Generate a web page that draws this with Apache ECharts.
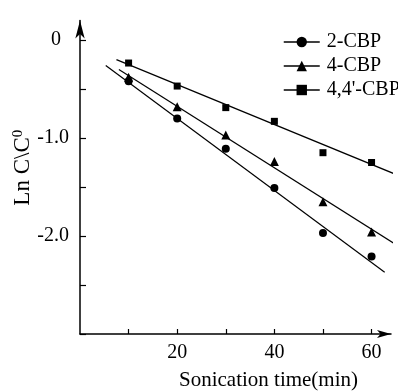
<!DOCTYPE html>
<html>
<head>
<meta charset="utf-8">
<script src="https://cdn.jsdelivr.net/npm/echarts@6/dist/echarts.min.js"></script>
<style>
  html, body { margin: 0; padding: 0; background: #fff; }
  #chart { width: 398px; height: 392px; }
</style>
</head>
<body>
<div id="chart"></div>
<script>
// sonication time (min) and ln(C/C0)
const time = [10, 20, 30, 40, 50, 60];
const cbp2 = [-0.42, -0.80, -1.11, -1.51, -1.97, -2.21];
const cbp4 = [-0.38, -0.68, -0.97, -1.24, -1.65, -1.96];
const cbp44 = [-0.235, -0.47, -0.69, -0.83, -1.15, -1.25];

// regression lines, start and end points
const fit2X = [5.3, 62.7];
const fit2Y = [-0.26, -2.37];
const fit4X = [8.0, 65.4];
const fit4Y = [-0.30, -2.10];
const fit44X = [7.5, 65.4];
const fit44Y = [-0.20, -1.38];

const xTicks = [10, 20, 30, 40, 50, 60];
const xLabels = [20, 40, 60];
const yTicks = [-3, -2.5, -2, -1.5, -1, -0.5, 0];
const yLabels = [-2, -1, 0];

const names = ['2-CBP', '4-CBP', "4,4'-CBP"];
const symbols = ['circle', 'triangle', 'rect'];
const sizes = [8, 9, 7];
const values = [cbp2, cbp4, cbp44];
const fits = [[fit2X, fit2Y], [fit4X, fit4Y], [fit44X, fit44Y]];

const font = 'Liberation Serif';
const zip = (xs, ys) => xs.map((x, i) => [x, ys[i]]);

const chart = echarts.init(document.getElementById('chart'));

const series = [];
names.forEach((name, i) => {
  series.push({
    name: name,
    type: 'line',
    data: zip(time, values[i]),
    symbol: symbols[i],
    symbolSize: sizes[i],
    itemStyle: { color: '#000' },
    lineStyle: { width: 0 },
    z: 3
  });
  series.push({
    name: name + ' fit',
    type: 'line',
    data: zip(fits[i][0], fits[i][1]),
    symbol: 'none',
    clip: false,
    lineStyle: { color: '#000', width: 1.2 },
    z: 2
  });
});

const option = {
  animation: false,
  backgroundColor: '#fff',
  grid: { left: 80, right: 7, top: 20.4, bottom: 58, outerBoundsMode: 'none' },
  legend: {
    data: names,
    orient: 'vertical',
    left: 283,
    top: 32,
    padding: 0,
    itemWidth: 36,
    itemHeight: 13,
    itemGap: 4,
    selectedMode: false,
    lineStyle: { width: 1.5, color: '#000' },
    textStyle: { fontFamily: font, fontSize: 20, color: '#000', padding: [0, 0, 0, 2] }
  },
  xAxis: {
    type: 'value',
    min: 0,
    max: 64,
    name: 'Sonication time(min)',
    nameLocation: 'middle',
    nameGap: 36,
    nameTextStyle: { fontFamily: font, fontSize: 21, color: '#000', padding: [0, 0, 0, 66] },
    splitLine: { show: false },
    axisLine: {
      onZero: false,
      symbol: ['none', 'arrow'],
      symbolSize: [6, 14],
      lineStyle: { color: '#000', width: 1.5 }
    },
    axisTick: { inside: true, length: 5, customValues: xTicks, lineStyle: { color: '#000', width: 1.2 } },
    axisLabel: { customValues: xLabels, margin: 9, fontFamily: font, fontSize: 20, color: '#000' }
  },
  yAxis: {
    type: 'value',
    min: -3,
    max: 0.2,
    name: 'Ln C\\C{s|0}',
    nameLocation: 'middle',
    nameGap: 46,
    nameMoveOverlap: false,
    nameTextStyle: {
      fontFamily: font, fontSize: 23, color: '#000', padding: [0, 0, 0, 19],
      rich: { s: { fontFamily: font, fontSize: 15, color: '#000', verticalAlign: 'top' } }
    },
    splitLine: { show: false },
    axisLine: {
      onZero: false,
      symbol: ['none', 'arrow'],
      symbolSize: [7, 18],
      lineStyle: { color: '#000', width: 1.5 }
    },
    axisTick: { inside: true, length: 6, customValues: yTicks, lineStyle: { color: '#000', width: 1.2 } },
    axisLabel: {
      customValues: yLabels,
      margin: 11,
      fontFamily: font,
      fontSize: 20,
      color: '#000',
      formatter: v => (v === 0 ? '{z|0}' : v.toFixed(1)),
      rich: { z: { fontFamily: font, fontSize: 20, color: '#000', padding: [0, 8, 0, 0] } }
    }
  },
  series: series
};

chart.setOption(option);
</script>
</body>
</html>
